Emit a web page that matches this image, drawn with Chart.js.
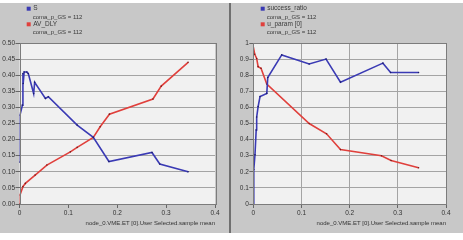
<!DOCTYPE html>
<html>
<head>
<meta charset="utf-8">
<script src="https://cdn.jsdelivr.net/npm/chart.js@4.4.1/dist/chart.umd.min.js"></script>
<style>
  html, body { margin: 0; padding: 0; background: #ffffff; width: 463px; height: 240px; overflow: hidden; }
  #panel { position: absolute; left: 0; top: 3px; width: 463px; height: 230px; background: #c8c8c8; }
  #divider { position: absolute; left: 229px; top: 3px; width: 2px; height: 230px; background: #707070; }
  canvas { position: absolute; top: 0; }
  #cL { left: 0; }
  #cR { left: 232px; }
</style>
</head>
<body>
<div id="panel"></div>
<div id="divider"></div>
<canvas id="cL" width="228" height="240"></canvas>
<canvas id="cR" width="231" height="240"></canvas>
<script>
// ---------- data ----------
const xTitle = 'node_0.VME.ET [0].User Selected.sample mean';
const legendNote = 'coma_p_GS = 112';

// Left chart
const leftLabels = ['S', 'AV_DLY'];
const sX = [0, 0.001, 0.006, 0.007, 0.0075, 0.0095, 0.015, 0.018, 0.029, 0.031, 0.053, 0.059, 0.118, 0.151, 0.183, 0.271, 0.287, 0.345];
const sY = [0.13, 0.276, 0.307, 0.405, 0.374, 0.41, 0.41, 0.405, 0.343, 0.378, 0.328, 0.333, 0.245, 0.207, 0.132, 0.16, 0.124, 0.10];
const avX = [0, 0.001, 0.007, 0.012, 0.032, 0.056, 0.104, 0.118, 0.151, 0.165, 0.184, 0.273, 0.29, 0.345];
const avY = [0, 0.028, 0.054, 0.064, 0.09, 0.121, 0.162, 0.176, 0.207, 0.24, 0.279, 0.326, 0.366, 0.44];

// Right chart
const rightLabels = ['success_ratio', 'u_param [0]'];
const srX = [0, 0.001, 0.0035, 0.006, 0.007, 0.01, 0.014, 0.028, 0.03, 0.059, 0.116, 0.151, 0.181, 0.269, 0.285, 0.343];
const srY = [0, 0.214, 0.306, 0.46, 0.54, 0.605, 0.667, 0.687, 0.786, 0.926, 0.87, 0.90, 0.757, 0.875, 0.817, 0.817];
const upX = [0, 0.003, 0.007, 0.01, 0.016, 0.028, 0.116, 0.152, 0.181, 0.266, 0.286, 0.343];
const upY = [0.975, 0.93, 0.904, 0.853, 0.843, 0.745, 0.50, 0.436, 0.338, 0.30, 0.27, 0.225];

// ---------- styling ----------
const BLUE = '#3a3ab4';
const RED = '#e0403c';
const FONT = 'Liberation Sans, Arial, sans-serif';

function pts(xs, ys) { return xs.map((x, i) => ({ x: x, y: ys[i] })); }

const plotFrame = {
  id: 'plotFrame',
  beforeDatasetsDraw() {},
  beforeDraw(chart) {
    const a = chart.chartArea, c = chart.ctx;
    c.save();
    c.fillStyle = '#f1f1f1';
    c.fillRect(a.left, a.top, a.right - a.left, a.bottom - a.top);
    c.restore();
  },
  afterDraw(chart) {
    const a = chart.chartArea, c = chart.ctx;
    c.save();
    c.strokeStyle = '#7c7c7c';
    c.lineWidth = 1;
    c.strokeRect(Math.round(a.left) + 0.5, Math.round(a.top) + 0.5, Math.round(a.right - a.left), Math.round(a.bottom - a.top));
    // legend
    const o = chart.options.plugins.noteLegend;
    c.textBaseline = 'middle';
    c.textAlign = 'left';
    chart.data.datasets.forEach((ds, i) => {
      const y0 = o.y + i * 15.6;
      c.fillStyle = ds.borderColor;
      c.fillRect(o.x, y0 - 2, 4, 4);
      c.fillStyle = '#3a3a3a';
      c.font = '6.5px ' + FONT;
      c.fillText(ds.label, o.x + 6.5, y0);
      c.font = '6px ' + FONT;
      c.fillText(legendNote, o.x + 6, y0 + 8.4);
    });
    c.restore();
  }
};

function makeChart(id, datasets, yMax, yStep, yFmt, xGrid, areaLeft, areaRight, canvasW, legendX) {
  return new Chart(document.getElementById(id), {
    type: 'line',
    data: { datasets: datasets },
    plugins: [plotFrame],
    options: {
      responsive: false,
      animation: false,
      devicePixelRatio: 1,
      layout: { padding: { left: 0, top: 43, right: canvasW - areaRight, bottom: 6 } },
      plugins: {
        legend: { display: false },
        tooltip: { enabled: false },
        noteLegend: { x: legendX, y: 8.7 }
      },
      elements: {
        line: { borderWidth: 1.6, tension: 0 },
        point: { radius: 0.8, borderWidth: 0 }
      },
      scales: {
        x: {
          type: 'linear', min: 0, max: 0.4,
          afterFit(s) { s.height = 30; },
          ticks: { stepSize: 0.1, padding: 1.5, color: '#333', font: { family: FONT, size: 6.5 } },
          grid: {
            color: (ctx) => (xGrid && ctx.tick && ctx.tick.value > 0 && ctx.tick.value < 0.4) ? '#a4a4a4' : 'rgba(0,0,0,0)',
            tickColor: '#666', tickLength: 4, drawTicks: true
          },
          border: { display: false },
          title: { display: true, text: xTitle, align: 'end', color: '#333',
                   font: { family: FONT, size: 6 }, padding: { top: 0, bottom: 7.5 } }
        },
        y: {
          type: 'linear', min: 0, max: yMax,
          afterFit(s) { s.width = areaLeft; },
          ticks: { stepSize: yStep, padding: 0.5, color: '#333', font: { family: FONT, size: 6.5 },
                   callback: yFmt },
          grid: {
            color: (ctx) => (ctx.tick && ctx.tick.value > 0 && ctx.tick.value < yMax - 1e-9) ? '#a4a4a4' : 'rgba(0,0,0,0)',
            tickColor: '#666', tickLength: 4, drawTicks: true
          },
          border: { display: false }
        }
      }
    }
  });
}

makeChart('cL', [
  { label: leftLabels[0], data: pts(sX, sY), borderColor: BLUE, backgroundColor: '#1c1c6a' },
  { label: leftLabels[1], data: pts(avX, avY), borderColor: RED, backgroundColor: '#7a1a1a' }
], 0.5, 0.05, (v) => Number(v).toFixed(2), false, 19.5, 215, 228, 26.7);

makeChart('cR', [
  { label: rightLabels[0], data: pts(srX, srY), borderColor: BLUE, backgroundColor: '#1c1c6a' },
  { label: rightLabels[1], data: pts(upX, upY), borderColor: RED, backgroundColor: '#7a1a1a' }
], 1, 0.1, (v) => String(Math.round(v * 10) / 10), true, 21.3, 214, 231, 28.7);
</script>
</body>
</html>
